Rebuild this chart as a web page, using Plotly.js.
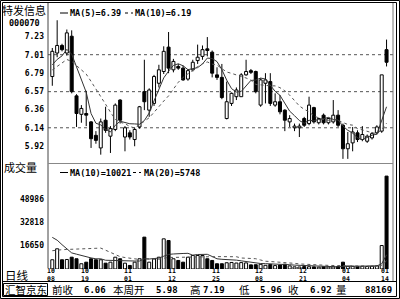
<!DOCTYPE html>
<html><head><meta charset="utf-8">
<script src="https://cdn.plot.ly/plotly-3.0.1.min.js"></script>
<style>html,body{margin:0;padding:0;background:#fff;}#chart{width:400px;height:299px;}</style>
</head><body><div id="chart"></div>
<script>
// ---------- data ----------
const dates = ["10/08","10/11","10/12","10/13","10/14","10/15","10/18","10/19","10/20","10/21","10/22","10/25","10/26","10/27","10/28","10/29",
"11/01","11/02","11/03","11/04","11/05","11/08","11/09","11/10","11/11","11/12","11/15","11/16","11/17","11/18","11/19","11/22","11/23","11/24","11/25","11/26","11/29","11/30",
"12/01","12/02","12/03","12/06","12/07","12/08","12/09","12/10","12/13","12/14","12/15","12/16","12/17","12/20","12/21","12/22","12/23","12/24","12/27","12/28","12/29","12/30","12/31",
"01/04","01/05","01/06","01/07","01/10","01/11","01/12","01/13","01/14"];
const open = [6.75,7.03,7.12,7.03,7.23,6.52,6.30,6.31,6.21,6.05,
 5.90,6.23,6.04,6.12,6.47,6.03,6.08,6.00,6.15,6.57,
 6.35,6.43,6.67,6.81,7.10,6.83,6.87,6.85,6.72,6.83,
 6.94,6.99,7.08,7.04,6.77,6.74,6.25,6.43,6.51,6.51,
 6.77,6.82,6.81,6.41,6.67,6.69,6.41,6.45,6.35,6.21,
 6.14,6.14,6.25,6.19,6.38,6.20,6.29,6.20,6.21,6.29,
 6.17,5.89,5.96,6.08,6.00,5.98,6.02,6.08,6.10,7.07];
const high = [7.09,7.42,7.14,7.31,7.30,6.54,6.41,6.58,6.22,6.10,
 6.25,6.39,6.16,6.43,6.48,6.16,6.11,6.14,6.40,6.95,
 6.61,6.77,6.89,7.11,7.28,6.96,6.90,6.88,6.84,6.95,
 7.13,7.12,7.22,7.06,6.86,6.90,6.69,6.56,6.62,6.79,
 6.95,6.84,6.82,6.73,6.79,6.79,6.55,6.53,6.36,6.29,
 6.19,6.19,6.27,6.51,6.39,6.26,6.31,6.26,6.47,6.35,
 6.19,6.09,6.15,6.11,6.16,6.06,6.09,6.17,6.77,7.19];
const low = [6.64,6.98,7.05,7.00,6.55,6.15,6.20,6.16,5.90,5.95,
 5.82,6.08,5.84,6.10,6.19,5.86,6.00,5.92,6.13,6.35,
 6.27,6.40,6.62,6.78,6.79,6.80,6.83,6.70,6.70,6.81,
 6.90,6.95,6.99,6.74,6.71,6.48,6.24,6.40,6.47,6.51,
 6.76,6.78,6.55,6.39,6.43,6.40,6.39,6.30,6.10,6.15,
 6.10,6.03,6.15,6.17,6.19,6.18,6.18,6.18,6.19,6.15,
 5.77,5.77,5.86,5.97,5.98,5.96,6.00,6.06,6.08,6.87];
const close = [7.05,7.12,7.07,7.27,6.57,6.31,6.37,6.29,6.01,5.99,
 6.21,6.11,6.13,6.41,6.23,6.14,6.03,6.12,6.39,6.45,
 6.59,6.75,6.83,7.05,6.85,6.93,6.85,6.71,6.82,6.92,
 6.98,7.07,7.06,6.79,6.74,6.50,6.45,6.55,6.59,6.77,
 6.81,6.80,6.57,6.71,6.71,6.43,6.45,6.33,6.23,6.25,
 6.16,6.16,6.17,6.41,6.21,6.25,6.20,6.25,6.29,6.17,
 5.89,5.95,6.09,6.00,6.06,6.04,6.07,6.15,6.77,6.92];
const volume = [6500,14200,6500,6700,8300,7200,3700,4800,7200,6500,
 6500,4100,4800,8300,7200,4100,2500,4800,7200,22400,
 4800,7200,8300,21200,20000,7200,6000,4800,8300,9500,
 9500,9500,7200,6000,3700,3700,4400,4600,4200,4500,
 4300,2900,3000,3300,2600,3200,2400,2800,3400,2200,
 1500,1400,1700,1600,1500,1300,1600,1400,1500,1700,
 4800,2000,1900,1700,1900,1800,2000,2200,16500,65300];
// closes / volumes of the sessions just before the first visible bar (for the averages)
const priorClose = [6.70,6.74,6.78,6.80,6.82,6.80,6.86,6.88,6.86];
const priorVolume = [3200,3800,3000,3600,3400,3300,3900,3500,3700,3600,34000,38000,36000,37000,16000,14000,15000,13000,12800];

const priceTicks = ["7.23","7.01","6.79","6.57","6.36","6.14","5.92"];
const priceGrid = ["7.01","6.57","6.14"];
const volTicks = ["48986","32818","16650"];
const dateTicks = ["10/08","10/19","11/01","11/12","11/25","12/08","12/21","01/04","01/14"];

const stockName = "特发信息", stockCode = "000070";
const priceLegend = ["MA(5)=6.39","MA(10)=6.19"];
const volLegend = ["MA(10)=10021","MA(20)=5748"];
const volLabel = "成交量", periodLabel = "日线", brand = "汇智京东";
const statusLabels = ["前收","本周开","高","低","收","量"];
const statusValues = ["6.06","5.98","7.19","5.96","6.92","88169"];

// ---------- helpers ----------
function sma(series, prior, n){
  const all = prior.concat(series);
  return series.map((_, i) => { const end = prior.length + i; let s = 0; for (let k = end - n + 1; k <= end; k++) s += all[k]; return s / n; });
}
const L=48, R=393, T=4, B=269, W=R-L, H=B-T;
const px = x => (x - L) / W;
const py = y => (B - y) / H;

const up = close.map((c, i) => c >= open[i]);
const fills = up.map(u => u ? '#ffffff' : '#000000');
const bodyBase = open.map((o, i) => Math.min(o, close[i]));
const bodyH = open.map((o, i) => Math.max(Math.abs(close[i] - o), 0.008));

const wx = [], wy = [];
dates.forEach((d, i) => {
  const top = Math.max(open[i], close[i]), bot = Math.min(open[i], close[i]);
  if (high[i] > top) { wx.push(d, d, null); wy.push(top, high[i], null); }
  if (low[i] < bot) { wx.push(d, d, null); wy.push(low[i], bot, null); }
});

const mono = 'DejaVu Sans Mono';
const cjk = '"Noto Sans CJK SC", "Noto Sans CJK JP", sans-serif';

const traces = [
  {type:'bar', x:dates, y:bodyH, base:bodyBase, width:0.62, xaxis:'x', yaxis:'y',
   marker:{color:fills, line:{color:'#000', width:1}}, hoverinfo:'skip'},
  {type:'scatter', mode:'lines', x:wx, y:wy, xaxis:'x', yaxis:'y', line:{color:'#000', width:1}, hoverinfo:'skip', connectgaps:false},
  {type:'scatter', mode:'lines', x:dates, y:sma(close, priorClose, 5), xaxis:'x', yaxis:'y', line:{color:'#333', width:1}},
  {type:'scatter', mode:'lines', x:dates, y:sma(close, priorClose, 10), xaxis:'x', yaxis:'y', line:{color:'#555', width:1, dash:'dot'}},
  {type:'bar', x:dates, y:volume, width:0.62, xaxis:'x', yaxis:'y2',
   marker:{color:fills, line:{color:'#000', width:1}}, hoverinfo:'skip'},
  {type:'scatter', mode:'lines', x:dates, y:sma(volume, priorVolume, 10), xaxis:'x', yaxis:'y2', line:{color:'#333', width:1}},
  {type:'scatter', mode:'lines', x:dates, y:sma(volume, priorVolume, 20), xaxis:'x', yaxis:'y2', line:{color:'#555', width:1, dash:'dot'}}
];

const shapes = [];
const line = (x0,y0,x1,y1,color,width,dash) => shapes.push({type:'line', xref:'paper', yref:'paper', x0:px(x0), y0:py(y0), x1:px(x1), y1:py(y1), line:{color, width, dash:dash||'solid'}, layer:'above'});
const rect = (x0,y0,x1,y1,color,width) => shapes.push({type:'rect', xref:'paper', yref:'paper', x0:px(x0), y0:py(y0), x1:px(x1), y1:py(y1), line:{color, width}, fillcolor:'rgba(0,0,0,0)', layer:'above'});
priceGrid.forEach(v => shapes.push({type:'line', xref:'paper', yref:'y', x0:0, x1:1, y0:+v, y1:+v, line:{color:'#555', width:1, dash:'dot'}, layer:'below'}));
rect(0.5,0.5,399.5,298.5,'#000',1);
rect(2.5,2.5,396.5,296.5,'#000',1);
line(48,3,48,268,'#444',1);
line(393,3,393,281,'#777',1);
line(48,163.5,393,163.5,'#888',1);
line(2,281.5,397,281.5,'#000',1);
rect(3.5,283.5,47.5,295.5,'#000',1);
// legend markers
line(60,13,68,13,'#000',1);
line(125,13,133,13,'#000',1,'dot');
line(60,172.5,68,172.5,'#000',1);
line(133,172.5,141,172.5,'#000',1,'dot');

const ann = [];
const txt = (x,y,text,size,family,anchor,extra) => ann.push(Object.assign({xref:'paper', yref:'paper', x:px(x), y:py(y), text, showarrow:false, xanchor:anchor||'left', yanchor:'middle', font:{family, size, color:'#000'}, borderpad:0}, extra||{}));
const boldMono = s => ({font:{family:mono, size:s, color:'#000', weight:'bold'}});
txt(1,9.5,stockName,11,cjk,'left');
txt(41,23,stockCode,8.5,mono,'right',boldMono(8.5));
txt(69,13,priceLegend[0],8.5,mono,'left',boldMono(8.5));
txt(134,13,priceLegend[1],8.5,mono,'left',boldMono(8.5));
txt(69,172.5,volLegend[0],8.5,mono,'left',boldMono(8.5));
txt(143,172.5,volLegend[1],8.5,mono,'left',boldMono(8.5));
txt(3,166.5,volLabel,11,cjk,'left');
txt(4,275,periodLabel,11.5,cjk,'left');
txt(25.5,289.5,brand,10.5,cjk,'center');
const labX = [51,112,189,238,287,335];
const valX = [107,179,226,283,333,393];
statusLabels.forEach((s,i) => txt(labX[i],289.5,s,10.5,cjk,'left'));
statusValues.forEach((s,i) => txt(valX[i],289.5,s,9,mono,'right',boldMono(9)));
dateTicks.forEach(d => {
  const [m, dd] = d.split('/');
  ann.push({xref:'x', yref:'paper', x:d, y:py(275), text:m + '<br>' + dd, showarrow:false, xanchor:'center', yanchor:'middle', xshift:-1.5,
            font:{family:mono,size:6.5,color:'#000',weight:'bold'}, borderpad:0});
});

const tickFont = {family:mono, size:8, color:'#000', weight:'bold'};
const layout = {
  width:400, height:299, margin:{l:L, r:400-R, t:T, b:299-B},
  paper_bgcolor:'#fff', plot_bgcolor:'#fff', showlegend:false, barmode:'overlay',
  xaxis:{type:'category', categoryorder:'array', categoryarray:dates, range:[-0.89,70.33], anchor:'y2',
         showticklabels:false, showgrid:false, zeroline:false, showline:false, ticks:''},
  yaxis:{domain:[py(163),1], range:[5.7207,7.6136], tickvals:priceTicks.map(Number), ticktext:priceTicks,
         showgrid:false, zeroline:false, showline:false, ticks:'', tickfont:tickFont, ticklabelstandoff:3},
  yaxis2:{domain:[0,py(165)], range:[0,73100], tickvals:volTicks.map(Number), ticktext:volTicks,
         showgrid:false, zeroline:false, showline:false, ticks:'', tickfont:tickFont, ticklabelstandoff:3},
  shapes, annotations:ann, hovermode:false
};
Plotly.newPlot('chart', traces, layout, {staticPlot:true, displayModeBar:false});
</script></body></html>
